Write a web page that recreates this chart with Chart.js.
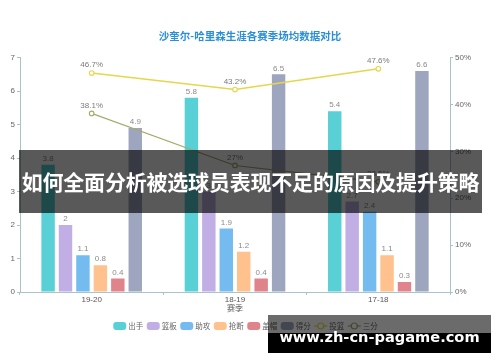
<!DOCTYPE html>
<html><head><meta charset="utf-8">
<script src="https://cdn.jsdelivr.net/npm/chart.js@4/dist/chart.umd.min.js"></script>
<style>
html,body{margin:0;padding:0;background:#fff;}
#wrap{position:relative;width:500px;height:362px;overflow:hidden;background:#fff;}
#c{position:absolute;left:0;top:0;}
#band{position:absolute;left:19px;top:150px;width:463px;height:63px;background:rgba(0,0,0,0.65);color:#fff;font-family:"Noto Sans CJK SC";font-weight:bold;font-size:21px;line-height:63px;text-align:center;white-space:nowrap;letter-spacing:-0.2px;}
#wmTop{position:absolute;left:268px;top:315px;width:223px;height:18px;background:rgba(0,0,0,0.58);}
#wmBot{position:absolute;left:268px;top:333px;width:223px;height:20px;background:#000;}
#wmText{position:absolute;left:268px;top:326px;width:223px;height:22px;color:#fff;font-family:"DejaVu Sans";font-weight:bold;font-size:14.6px;line-height:22px;text-align:center;white-space:nowrap;}
</style>
</head><body>
<div id="wrap">
<canvas id="c" width="500" height="362"></canvas>
<div id="band">如何全面分析被选球员表现不足的原因及提升策略</div>
<div id="wmTop"></div><div id="wmBot"></div>
<div id="wmText">www.zh-cn-pagame.com</div>
</div>
<script>
const chartTitle = '沙奎尔-哈里森生涯各赛季场均数据对比';
const seasons = ['19-20', '18-19', '17-18'];
const seriesNames = ['出手', '篮板', '助攻', '抢断', '盖帽', '得分', '投篮', '三分'];
const shots = [3.8, 5.8, 5.4];
const rebounds = [2, 3, 2.7];
const assists = [1.1, 1.9, 2.4];
const steals = [0.8, 1.2, 1.1];
const blocks = [0.4, 0.4, 0.3];
const points = [4.9, 6.5, 6.6];
const fgPct = [46.7, 43.2, 47.6];
const threePct = [38.1, 27, 23.5];
const leftAxisMax = 7;
const rightAxisMax = 50;

const barColors = ['#58d0d6', '#c0aee4', '#74bcf0', '#ffc28e', '#e0848b', '#9ea6bf'];
const lineColors = ['#e6d64c', '#a6ab6a'];
const axisColor = '#a9c4c9';
const FONT = '"Liberation Sans", "Noto Sans CJK SC", sans-serif';

const barSeries = [shots, rebounds, assists, steals, blocks, points];
const datasets = barSeries.map((d, i) => ({
  type: 'bar', label: seriesNames[i], data: d, yAxisID: 'y',
  backgroundColor: barColors[i], order: 2,
  categoryPercentage: 0.73, barPercentage: 0.77
}));
[fgPct, threePct].forEach((d, i) => datasets.push({
  type: 'line', label: seriesNames[6 + i], data: d, yAxisID: 'y1',
  borderColor: lineColors[i], backgroundColor: '#fff', borderWidth: i === 0 ? 1.5 : 1.1,
  pointRadius: 2.3, pointBorderWidth: 1.1, pointBackgroundColor: '#fff', pointBorderColor: lineColors[i],
  tension: 0, order: 1, fill: false
}));

const labelPlugin = {
  id: 'valueLabels',
  afterDatasetsDraw(chart) {
    const ctx = chart.ctx;
    ctx.save();
    ctx.font = '8px ' + FONT;
    ctx.textAlign = 'center';
    ctx.textBaseline = 'bottom';
    chart.data.datasets.forEach((ds, di) => {
      const meta = chart.getDatasetMeta(di);
      meta.data.forEach((el, i) => {
        const v = ds.data[i];
        if (ds.type === 'bar') {
          ctx.fillStyle = '#8a8a8a';
          ctx.fillText(String(v), el.x, el.y - 2);
        } else {
          ctx.fillStyle = '#7a7a7a';
          ctx.fillText(v + '%', el.x, el.y - 4);
        }
      });
    });
    ctx.restore();
  }
};

const legendPlugin = {
  id: 'customLegend',
  afterDraw(chart) {
    const ctx = chart.ctx;
    ctx.save();
    ctx.font = '7.5px ' + FONT;
    ctx.textBaseline = 'middle';
    const items = chart.data.datasets.map(ds => ({
      text: ds.label, type: ds.type,
      color: ds.type === 'bar' ? ds.backgroundColor : ds.borderColor
    }));
    const widths = items.map(it => 13 + 2 + ctx.measureText(it.text).width + 3.5);
    const total = widths.reduce((a, b) => a + b, 0) - 3.5;
    let x = 245.5 - total / 2;
    const y = 326;
    items.forEach((it, i) => {
      if (it.type === 'bar') {
        ctx.fillStyle = it.color;
        ctx.beginPath();
        ctx.roundRect(x, y - 4, 13, 8, 3);
        ctx.fill();
      } else {
        ctx.strokeStyle = it.color;
        ctx.lineWidth = 1.2;
        ctx.beginPath();
        ctx.moveTo(x, y); ctx.lineTo(x + 13, y);
        ctx.stroke();
        ctx.beginPath();
        ctx.arc(x + 6.5, y, 3, 0, Math.PI * 2);
        ctx.fillStyle = '#fff';
        ctx.fill();
        ctx.stroke();
      }
      ctx.fillStyle = '#666';
      ctx.textAlign = 'left';
      ctx.fillText(it.text, x + 15, y + 0.5);
      x += widths[i];
    });
    ctx.restore();
  }
};

new Chart(document.getElementById('c'), {
  data: { labels: seasons, datasets },
  plugins: [labelPlugin, legendPlugin],
  options: {
    responsive: false, animation: false, devicePixelRatio: 1,
    layout: { padding: { left: 0, right: 0, top: 0, bottom: 48 } },
    plugins: {
      legend: { display: false },
      tooltip: { enabled: false },
      title: {
        display: true, text: chartTitle, color: '#2b8fd6',
        font: { size: 10.5, weight: 'bold', family: '"Noto Sans CJK SC", sans-serif' },
        padding: { top: 30, bottom: 15 }
      }
    },
    scales: {
      x: {
        offset: true,
        grid: { drawOnChartArea: false, tickLength: 3, color: axisColor, offset: true },
        border: { color: axisColor, width: 1 },
        ticks: { color: '#555', font: { size: 8, family: FONT }, padding: 0, maxRotation: 0 },
        title: { display: true, text: '赛季', color: '#555', font: { size: 8, family: FONT }, padding: 0 },
        afterFit(s) { s.height = 22; }
      },
      y: {
        position: 'left', min: 0, max: leftAxisMax,
        grid: { drawOnChartArea: false, tickLength: 3, color: axisColor },
        border: { color: axisColor, width: 1 },
        ticks: { stepSize: 1, color: '#666', font: { size: 8, family: FONT }, padding: 2 },
        afterFit(s) { s.width = 20; }
      },
      y1: {
        position: 'right', min: 0, max: rightAxisMax,
        grid: { drawOnChartArea: false, tickLength: 3, color: axisColor },
        border: { color: axisColor, width: 1 },
        ticks: { stepSize: 10, color: '#666', font: { size: 8, family: FONT }, padding: 2, callback: v => v + '%' },
        afterFit(s) { s.width = 50; }
      }
    }
  }
});
</script>
</body></html>
